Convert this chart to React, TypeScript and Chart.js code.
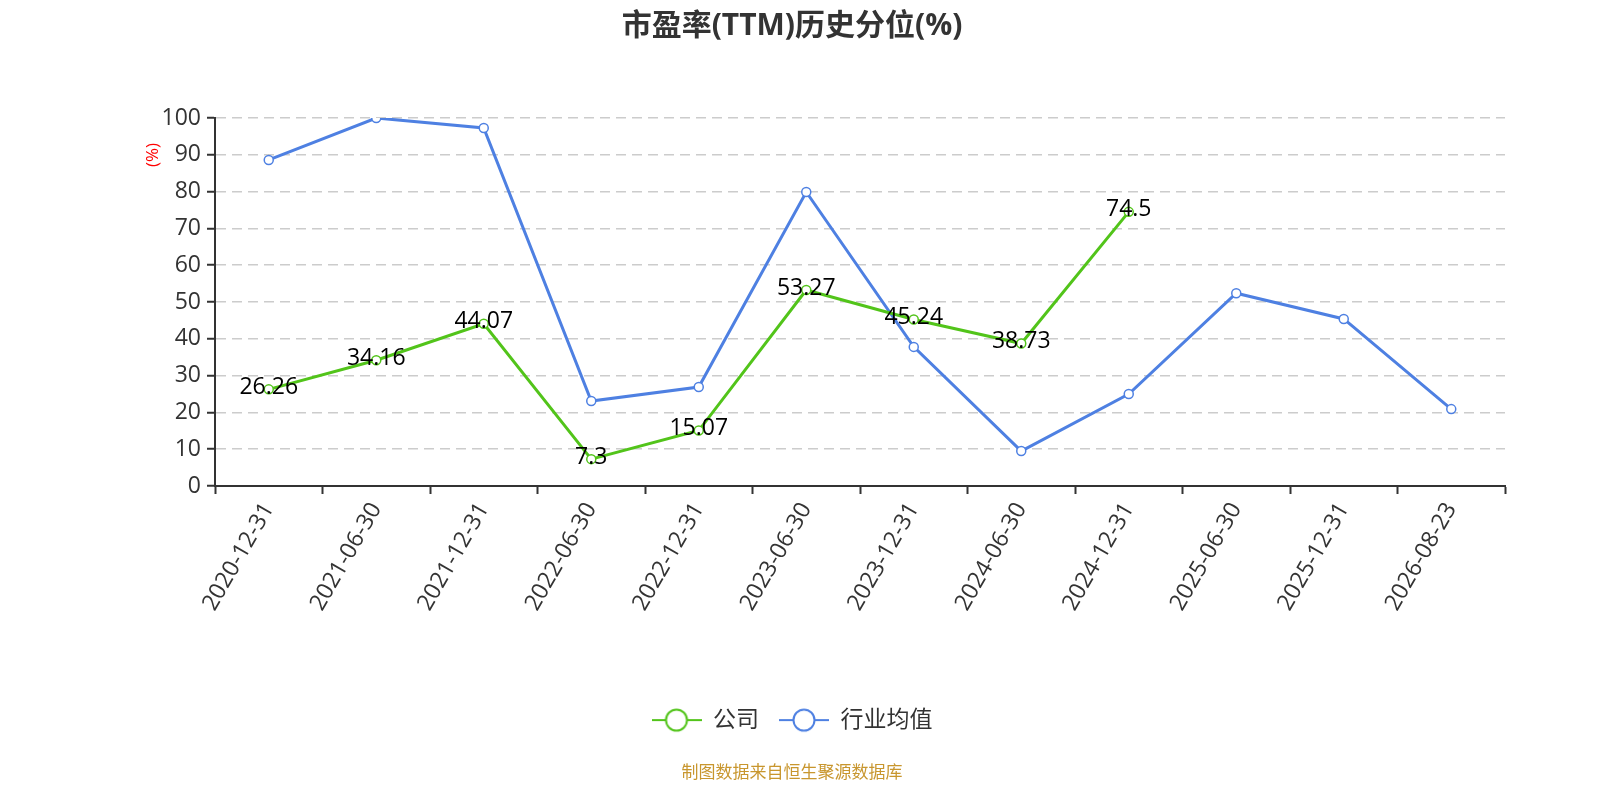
import React, { useEffect, useRef } from "react";
import { Chart, registerables } from "chart.js";

Chart.register(...registerables);

const categories = [
  "2020-12-31", "2021-06-30", "2021-12-31", "2022-06-30", "2022-12-31", "2023-06-30",
  "2023-12-31", "2024-06-30", "2024-12-31", "2025-06-30", "2025-12-31", "2026-08-23",
];
const companyValues: (number | null)[] = [26.26, 34.16, 44.07, 7.3, 15.07, 53.27, 45.24, 38.73, 74.5, null, null, null];
const industryValues: number[] = [88.6, 100, 97.3, 23.1, 26.9, 79.9, 37.8, 9.5, 25.0, 52.4, 45.4, 20.9];
const yTicks = { min: 0, max: 100, step: 10 };
const seriesNames = ["公司", "行业均值"];
const titleText = "市盈率(TTM)历史分位(%)";
const unitText = "(%)";
const sourceText = "制图数据来自恒生聚源数据库";

const GREEN = "#52c41a";
const BLUE = "#4e80e2";
const FONT = "'Open Sans', 'Noto Sans CJK SC', sans-serif";

function legendIcon(color: string): HTMLCanvasElement {
  const c = document.createElement("canvas");
  c.width = 50;
  c.height = 26;
  const g = c.getContext("2d")!;
  g.strokeStyle = color;
  g.lineWidth = 2;
  g.beginPath();
  g.moveTo(0, 13);
  g.lineTo(50, 13);
  g.stroke();
  g.beginPath();
  g.arc(25, 13, 10.5, 0, Math.PI * 2);
  g.fillStyle = "#fff";
  g.fill();
  g.stroke();
  return c;
}

const extrasPlugin = {
  id: "extras",
  afterDatasetsDraw(chart: any) {
    const ctx = chart.ctx;
    const meta = chart.getDatasetMeta(0);
    ctx.save();
    ctx.font = `23px ${FONT}`;
    ctx.fillStyle = "#000";
    ctx.textAlign = "center";
    ctx.textBaseline = "middle";
    meta.data.forEach((el: any, i: number) => {
      const v = companyValues[i];
      if (v === null || v === undefined) return;
      ctx.fillText(String(v), el.x, el.y - 2);
    });
    ctx.restore();
    const area = chart.chartArea;
    ctx.save();
    ctx.translate(area.left - 62, area.top + 37);
    ctx.rotate(-Math.PI / 2);
    ctx.font = `17px ${FONT}`;
    ctx.fillStyle = "#ff0000";
    ctx.textAlign = "center";
    ctx.textBaseline = "middle";
    ctx.fillText(unitText, 0, 0);
    ctx.restore();
  },
};

export default function App() {
  const ref = useRef<HTMLCanvasElement | null>(null);
  useEffect(() => {
    if (!ref.current) return;
    const icons = [legendIcon(GREEN), legendIcon(BLUE)];
    const chart = new Chart(ref.current, {
      type: "line",
      data: {
        labels: categories,
        datasets: [
          {
            label: seriesNames[0],
            data: companyValues,
            borderColor: GREEN,
            backgroundColor: "#fff",
            borderWidth: 3,
            pointRadius: 4.5,
            pointBorderWidth: 1.5,
            pointBackgroundColor: "#fff",
            pointBorderColor: GREEN,
            tension: 0,
            order: 1,
          },
          {
            label: seriesNames[1],
            data: industryValues,
            borderColor: BLUE,
            backgroundColor: "#fff",
            borderWidth: 3,
            pointRadius: 4.5,
            pointBorderWidth: 1.5,
            pointBackgroundColor: "#fff",
            pointBorderColor: BLUE,
            tension: 0,
            order: 2,
          },
        ],
      },
      options: {
        responsive: true,
        maintainAspectRatio: false,
        animation: false,
        layout: { padding: { left: 71, right: 87, top: 0, bottom: 0 } },
        plugins: {
          title: {
            display: true,
            text: titleText,
            color: "#333",
            font: { family: FONT, size: 30, weight: "bold" },
            padding: { top: 0, bottom: 74 },
          },
          subtitle: {
            display: true,
            text: sourceText,
            position: "bottom",
            color: "#c8962e",
            font: { family: FONT, size: 17 },
            padding: { top: 21, bottom: 9 },
          },
          legend: {
            position: "bottom",
            labels: {
              usePointStyle: true,
              pointStyleWidth: 50,
              boxHeight: 23,
              padding: 20,
              color: "#333",
              font: { family: FONT, size: 23 },
              generateLabels: (c: any) =>
                c.data.datasets.map((ds: any, i: number) => ({
                  text: ds.label,
                  pointStyle: icons[i],
                  fillStyle: "#fff",
                  strokeStyle: i === 0 ? GREEN : BLUE,
                  lineWidth: 0,
                  hidden: false,
                  datasetIndex: i,
                  fontColor: "#333",
                })),
            },
          },
          tooltip: { enabled: false },
        },
        scales: {
          x: {
            type: "category",
            offset: true,
            grid: {
              display: true,
              offset: true,
              drawOnChartArea: false,
              drawTicks: true,
              tickLength: 8,
              tickColor: "#333",
              tickWidth: 2,
            },
            border: { display: true, color: "#333", width: 2 },
            ticks: {
              autoSkip: false,
              maxRotation: 60,
              minRotation: 60,
              padding: 4,
              color: "#333",
              font: { family: FONT, size: 23 },
            },
            afterFit: (s: any) => {
              s.height = 202.6;
            },
          },
          y: {
            min: yTicks.min,
            max: yTicks.max,
            grid: {
              display: true,
              color: "#cccccc",
              lineWidth: 1.5,
              drawTicks: true,
              tickLength: 8,
              tickColor: "#333",
              tickWidth: 2,
              tickBorderDash: [],
            },
            border: { display: true, color: "#333", width: 2, dash: [10, 6] },
            ticks: {
              stepSize: yTicks.step,
              padding: 6,
              color: "#333",
              font: { family: FONT, size: 23 },
            },
            afterFit: (s: any) => {
              s.width = 136;
            },
          },
        },
      },
      plugins: [extrasPlugin],
    } as any);
    return () => chart.destroy();
  }, []);
  return (
    <div style={{ position: "fixed", left: 8, top: 8, width: "calc(100vw - 16px)", height: "calc(100vh - 16px)" }}>
      <canvas ref={ref} />
    </div>
  );
}
